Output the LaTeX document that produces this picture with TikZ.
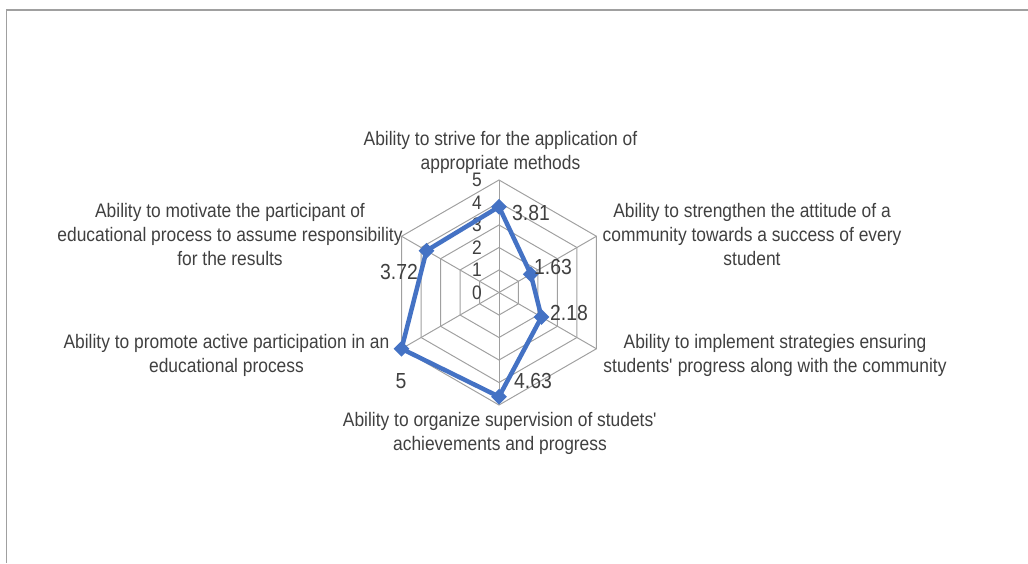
\documentclass[tikz,border=0pt]{standalone}
\usepackage{fontspec}
\setmainfont{Liberation Sans}[FakeStretch=0.89, Ligatures=ResetAll]
\usetikzlibrary{shapes.geometric}
\definecolor{txtgray}{HTML}{404040}
\definecolor{gridgray}{HTML}{A0A0A0}
\definecolor{serieblue}{HTML}{4472C4}
\tikzset{%
    every node/.style={inner sep=0pt, text=txtgray,
        font=\fontsize{13.9}{17.07}\selectfont},
    lbl/.style={align=center},
    val/.style={font=\fontsize{15.5}{18}\selectfont},
    grid/.style={draw=gridgray, line width=0.7pt},
    serie/.style={draw=serieblue, line width=3.2pt, line join=round},
    pt/.style={diamond, fill=serieblue, minimum size=0.4cm}
}
\begin{document}
\begin{tikzpicture}
  \useasboundingbox (-12.475,-6.7625) rectangle (13.225,7.3125);
  % frame
  \draw[gridgray, line width=1.1pt] (-12.3125,-6.7625) -- (-12.3125,7.0625) -- (13.225,7.0625);

  % grid
  \draw[grid] (90:0.5625) -- (30:0.5625) -- (-30:0.5625) -- (-90:0.5625) -- (210:0.5625) -- (150:0.5625) -- cycle;
  \draw[grid] (90:1.125) -- (30:1.125) -- (-30:1.125) -- (-90:1.125) -- (210:1.125) -- (150:1.125) -- cycle;
  \draw[grid] (90:1.6875) -- (30:1.6875) -- (-30:1.6875) -- (-90:1.6875) -- (210:1.6875) -- (150:1.6875) -- cycle;
  \draw[grid] (90:2.25) -- (30:2.25) -- (-30:2.25) -- (-90:2.25) -- (210:2.25) -- (150:2.25) -- cycle;
  \draw[grid] (90:2.8125) -- (30:2.8125) -- (-30:2.8125) -- (-90:2.8125) -- (210:2.8125) -- (150:2.8125) -- cycle;
  \draw[grid] (0,0) -- (90:2.8125);
  \draw[grid] (0,0) -- (30:2.8125);
  \draw[grid] (0,0) -- (-30:2.8125);
  \draw[grid] (0,0) -- (-90:2.8125);
  \draw[grid] (0,0) -- (210:2.8125);
  \draw[grid] (0,0) -- (150:2.8125);

  % scale
  \node (s0) [anchor=east] at (-0.425, 0) {0};
  \node (s1) [anchor=east] at (-0.425, 0.5625) {1};
  \node (s2) [anchor=east] at (-0.425, 1.125) {2};
  \node (s3) [anchor=east] at (-0.425, 1.6875) {3};
  \node (s4) [anchor=east] at (-0.425, 2.25) {4};
  \node (s5) [anchor=east] at (-0.425, 2.8125) {5};

  % data
  \coordinate (v1) at (90:2.1431);
  \coordinate (v2) at (30:0.9169);
  \coordinate (v3) at (-30:1.2263);
  \coordinate (v4) at (-90:2.6044);
  \coordinate (v5) at (210:2.8125);
  \coordinate (v6) at (150:2.0925);
  \draw[serie] (v1) -- (v2) -- (v3) -- (v4) -- (v5) -- (v6) -- cycle;
  \node (d1) [pt] at (v1) {};
  \node (d2) [pt] at (v2) {};
  \node (d3) [pt] at (v3) {};
  \node (d4) [pt] at (v4) {};
  \node (d5) [pt] at (v5) {};
  \node (d6) [pt] at (v6) {};

  \node (n1) [val] at (0.8, 1.9875) {3.81};
  \node (n2) [val] at (1.35, 0.6375) {1.63};
  \node (n3) [val] at (1.75, -0.5125) {2.18};
  \node (n4) [val] at (0.85, -2.2125) {4.63};
  \node (n5) [val] at (-2.45, -2.2125) {5};
  \node (n6) [val] at (-2.5, 0.5125) {3.72};

  % categories
  \node (c1) [lbl] at (0.0375, 3.5125) {Ability to strive for the application of\\appropriate methods};
  \node (c2) [lbl] at (6.325, 1.4375) {Ability to strengthen the attitude of a\\community towards a success of every\\student};
  \node (c3) [lbl] at (6.9, -1.5625) {Ability to implement strategies ensuring\\students\textquotesingle{} progress along with the community};
  \node (c4) [lbl] at (0.025, -3.5125) {Ability to organize supervision of studets\textquotesingle\\achievements and progress};
  \node (c5) [lbl] at (-6.8125, -1.5625) {Ability to promote active participation in an\\educational process};
  \node (c6) [lbl] at (-6.725, 1.4375) {Ability to motivate the participant of\\educational process to assume responsibility\\for the results};
\end{tikzpicture}
\end{document}
